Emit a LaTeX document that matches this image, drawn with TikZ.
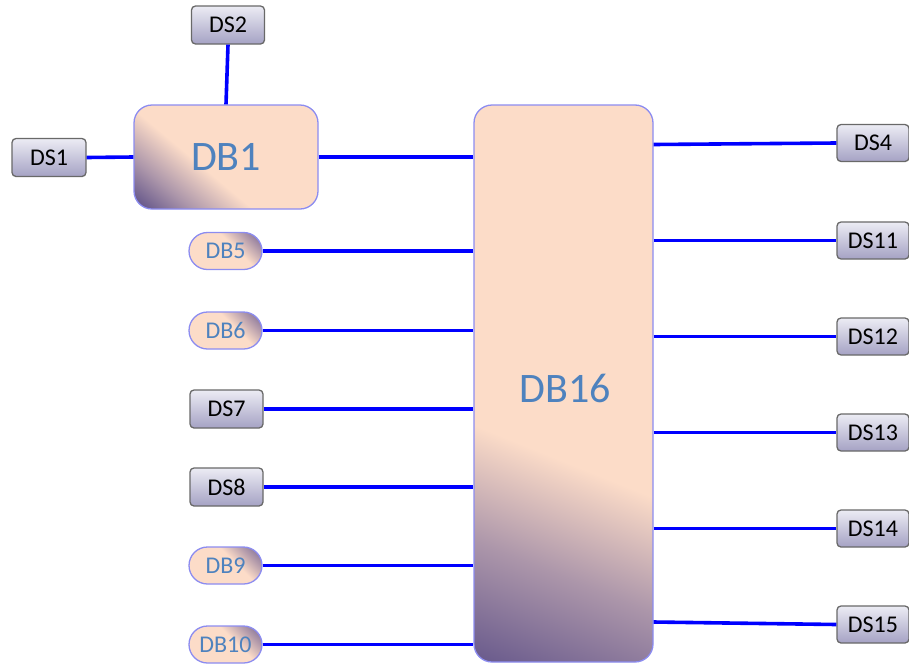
\documentclass[tikz,border=0pt]{standalone}
\usepackage{fontspec}
\setmainfont{Carlito}
\usetikzlibrary{shapes.misc}
\definecolor{peach}{RGB}{252,220,200}
\definecolor{dkp}{RGB}{96,82,136}
\definecolor{midp}{RGB}{172,150,170}
\definecolor{smalldk}{RGB}{140,120,155}
\definecolor{dstop}{RGB}{236,236,244}
\definecolor{dsbot}{RGB}{165,162,196}
\definecolor{dsborder}{RGB}{105,105,105}
\definecolor{dbtext}{RGB}{78,130,190}
\definecolor{dbborder}{RGB}{140,140,240}
\pgfdeclareverticalshading{bigshade}{100bp}{color(0bp)=(dkp); color(16bp)=(dkp); color(30bp)=(midp); color(42bp)=(peach); color(100bp)=(peach)}
\pgfdeclareverticalshading{dbone}{100bp}{color(0bp)=(dkp); color(16bp)=(dkp); color(28bp)=(midp); color(42bp)=(peach); color(100bp)=(peach)}
\pgfdeclareverticalshading{smallshade}{100bp}{color(0bp)=(peach); color(58bp)=(peach); color(80bp)=(smalldk); color(100bp)=(smalldk)}
\tikzset{
  dsbox/.style={draw=dsborder, line width=1.3pt, rounded corners=4pt,
    top color=dstop, bottom color=dsbot, minimum width=73pt, minimum height=38pt,
    inner sep=0pt, font=\fontsize{24}{26}\selectfont, text=black},
  dbsmall/.style={draw=dbborder, line width=1.3pt, rounded rectangle,
    shading=smallshade, shading angle=-45, minimum width=73pt, minimum height=37pt,
    inner sep=0pt, font=\fontsize{24}{26}\selectfont, text=dbtext},
  dbbig/.style={draw=dbborder, line width=1.3pt, rounded corners=18pt,
    inner sep=0pt, font=\fontsize{42}{46}\selectfont, text=dbtext},
  link/.style={draw=blue, line width=3.6pt}
}
\begin{document}
\begin{tikzpicture}[x=1pt,y=-1pt]
\useasboundingbox (0,0) rectangle (909,664);
% big blocks
\node[dbbig, shading=dbone, shading angle=-40, minimum width=184pt, minimum height=104pt] (DB1) at (226,157) {DB1};
\node[dbbig, shading=bigshade, shading angle=-22, minimum width=179pt, minimum height=557pt] (DB16) at (563.5,383.5) {};
\node[font=\fontsize{42}{46}\selectfont, text=dbtext] (DB16t) at (565,388) {DB16};
% DS boxes
\node[dsbox] (DS2) at (228,25) {DS2};
\node[dsbox, minimum width=74pt] (DS1) at (49,157.5) {DS1};
\node[dsbox] (DS7) at (226.5,409) {DS7};
\node[dsbox] (DS8) at (226.5,487) {DS8};
\node[dsbox, minimum width=72pt, minimum height=37pt] (DS4) at (873,143) {DS4};
\node[dsbox, minimum width=72pt, minimum height=37pt] (DS11) at (873,240.5) {DS11};
\node[dsbox, minimum width=72pt, minimum height=37pt] (DS12) at (873,336.5) {DS12};
\node[dsbox, minimum width=72pt, minimum height=37pt] (DS13) at (873,432.5) {DS13};
\node[dsbox, minimum width=72pt, minimum height=37pt] (DS14) at (873,528.5) {DS14};
\node[dsbox, minimum width=72pt, minimum height=37pt] (DS15) at (873,624.5) {DS15};
% small DB
\node[dbsmall] (DB5) at (225.5,251) {DB5};
\node[dbsmall] (DB6) at (225.5,330.5) {DB6};
\node[dbsmall] (DB9) at (225.5,565.5) {DB9};
\node[dbsmall] (DB10) at (225.5,644.5) {DB10};
% links
\draw[link] (DS2.south) -- (DB1.north);
\draw[link] (DS1.east) -- (DB1.west);
\draw[link] (DB1.east) -- (DB1.east -| DB16.west);
\foreach \n in {DB5,DB6,DS7,DS8,DB9,DB10}{
  \draw[link] (\n.east) -- (\n.east -| DB16.west);
}
\draw[link] ([yshift=-1.5pt]DS4.west -| DB16.east) -- (DS4.west);
\foreach \n in {DS11,DS12,DS13,DS14}{
  \draw[link] (\n.west -| DB16.east) -- (\n.west);
}
\draw[link] ([yshift=2.5pt]DS15.west -| DB16.east) -- (DS15.west);
\end{tikzpicture}
\end{document}
